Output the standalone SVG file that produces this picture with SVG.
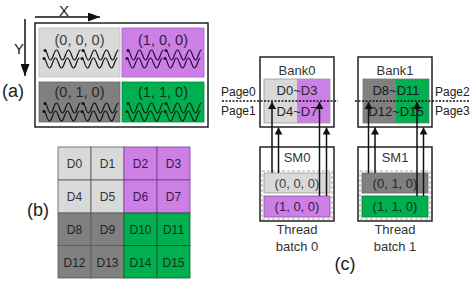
<svg xmlns="http://www.w3.org/2000/svg" xmlns:xlink="http://www.w3.org/1999/xlink" width="473" height="282" viewBox="0 0 473 282">
<style>
text{font-family:"Liberation Sans",Arial,sans-serif;text-anchor:middle}
.lbl{font-size:13px;fill:#333}
.big{font-size:18px;fill:#222}
.d{font-size:12px;fill:#333}
.pg{font-size:12px;fill:#222;text-anchor:start}
.box{fill:#fff;stroke:#222;stroke-width:1.5}
.lg{fill:#d9d9d9}
.pu{fill:#cc80e6}
.dg{fill:#808080}
.gr{fill:#00b050}
.wl{fill:none;stroke:currentColor;stroke-width:1.2}
.wd{fill:currentColor;stroke:none}
.conn{stroke:#111;stroke-width:1.5;fill:none}
.dot{stroke:#111;stroke-width:1.5;stroke-dasharray:2,1.5;fill:none}
</style>
<defs>
<marker id="ah" markerWidth="7" markerHeight="8" refX="7" refY="4" orient="auto" markerUnits="userSpaceOnUse"><path d="M0,0 L7,4 L0,8 z" fill="#111"/></marker>
<marker id="ahb" markerWidth="12" markerHeight="9" refX="12" refY="4.5" orient="auto" markerUnits="userSpaceOnUse"><path d="M0,0 L12,4.5 L0,9 z" fill="#111"/></marker>
<g id="wv">
<path class="wl" d="M0,0 C2,0 3,10 5.5,10 C8,10 9,0 11.5,0 C14,0 15,10 17.5,10 C20,10 21,0 23.5,0 C26,0 27,10 29.5,10 C32,10 33,0 35.5,0"/>
<path class="wl" d="M-1,8 C1,8 2,18 4.5,18 C7,18 8,8 10.5,8 C13,8 14,18 16.5,18 C19,18 20,8 22.5,8 C25,8 26,18 28.5,18 C31,18 32,8 34.5,8"/>
<circle class="wd" cx="0" cy="0.5" r="1.5"/>
<circle class="wd" cx="-1" cy="8.5" r="1.5"/>
</g>
</defs>

<!-- Panel (a) -->
<g id="panel-a">
<text class="big" x="13" y="97">(a)</text>
<text x="64" y="16" style="font-size:15px;fill:#222">X</text>
<text x="19" y="54" style="font-size:15px;fill:#222">Y</text>
<line class="conn" x1="35" y1="17" x2="100" y2="17" marker-end="url(#ahb)"/>
<line class="conn" x1="25" y1="19" x2="25" y2="76" marker-end="url(#ahb)"/>
<rect class="box" x="35" y="23" width="173" height="104"/>
</g>
<g id="block-000">
<rect class="lg" x="39" y="28" width="81" height="49" stroke="#bdbdbd" stroke-width="0.8"/>
<text class="lbl" x="79.5" y="45" style="font-size:14.5px;fill:#404040">(0, 0, 0)</text>
</g>
<g id="block-100">
<rect class="pu" x="122" y="28" width="82" height="49" stroke="#a860c0" stroke-width="0.8"/>
<text class="lbl" x="163" y="45" style="font-size:14.5px;fill:#3a1648">(1, 0, 0)</text>
</g>
<g id="block-010">
<rect class="dg" x="39" y="82" width="81" height="40" stroke="#666" stroke-width="0.8"/>
<text class="lbl" x="79.5" y="97" style="font-size:14.5px;fill:#262626">(0, 1, 0)</text>
</g>
<g id="block-110">
<rect class="gr" x="122" y="82" width="82" height="40" stroke="#008a3e" stroke-width="0.8"/>
<text class="lbl" x="163" y="97" style="font-size:14.5px;fill:#0d3318">(1, 1, 0)</text>
</g>
<g id="warps">
<g style="color:#111">
<use xlink:href="#wv" x="45" y="50"/><use xlink:href="#wv" x="83" y="50"/>
</g>
<g style="color:#2a0a36">
<use xlink:href="#wv" x="128" y="50"/><use xlink:href="#wv" x="166" y="50"/>
</g>
<g style="color:#111">
<use xlink:href="#wv" x="45" y="103"/><use xlink:href="#wv" x="83" y="103"/>
</g>
<g style="color:#0a2410">
<use xlink:href="#wv" x="128" y="103"/><use xlink:href="#wv" x="166" y="103"/>
</g>
</g>

<!-- Panel (b) -->
<g id="panel-b">
<text class="big" x="38" y="216">(b)</text>
<g stroke="#5a5a5a" stroke-width="0.8">
<rect class="lg" x="58" y="147" width="33" height="33"/><rect class="lg" x="91" y="147" width="33" height="33"/>
<rect class="lg" x="58" y="180" width="33" height="33"/><rect class="lg" x="91" y="180" width="33" height="33"/>
<rect class="dg" x="58" y="213" width="33" height="32.5"/><rect class="dg" x="91" y="213" width="33" height="32.5"/>
<rect class="dg" x="58" y="245.5" width="33" height="32.5"/><rect class="dg" x="91" y="245.5" width="33" height="32.5"/>
</g>
<g stroke="#7a3a90" stroke-width="0.8">
<rect class="pu" x="124" y="147" width="33" height="33"/><rect class="pu" x="157" y="147" width="33" height="33"/>
<rect class="pu" x="124" y="180" width="33" height="33"/><rect class="pu" x="157" y="180" width="33" height="33"/>
</g>
<g stroke="#0a5a2a" stroke-width="0.8">
<rect class="gr" x="124" y="213" width="33" height="32.5"/><rect class="gr" x="157" y="213" width="33" height="32.5"/>
<rect class="gr" x="124" y="245.5" width="33" height="32.5"/><rect class="gr" x="157" y="245.5" width="33" height="32.5"/>
</g>
<text class="d" x="74.5" y="168">D0</text><text class="d" x="107.5" y="168">D1</text>
<text class="d" x="140.5" y="168" style="fill:#3a1648">D2</text><text class="d" x="173.5" y="168" style="fill:#3a1648">D3</text>
<text class="d" x="74.5" y="201">D4</text><text class="d" x="107.5" y="201">D5</text>
<text class="d" x="140.5" y="201" style="fill:#3a1648">D6</text><text class="d" x="173.5" y="201" style="fill:#3a1648">D7</text>
<text class="d" x="74.5" y="234" style="fill:#222">D8</text><text class="d" x="107.5" y="234" style="fill:#222">D9</text>
<text class="d" x="140.5" y="234" style="fill:#0d3318">D10</text><text class="d" x="173.5" y="234" style="fill:#0d3318">D11</text>
<text class="d" x="74.5" y="266.5" style="fill:#222">D12</text><text class="d" x="107.5" y="266.5" style="fill:#222">D13</text>
<text class="d" x="140.5" y="266.5" style="fill:#0d3318">D14</text><text class="d" x="173.5" y="266.5" style="fill:#0d3318">D15</text>
</g>

<!-- Panel (c) -->
<g id="bank0">
<rect class="box" x="260" y="57" width="74" height="70"/>
<text class="lbl" x="297" y="75">Bank0</text>
<rect class="lg" x="264" y="79" width="33" height="44"/>
<rect class="pu" x="297" y="79" width="33" height="44"/>
<rect x="264" y="79" width="66" height="44" fill="none" stroke="#9a9a9a" stroke-width="0.8"/>
<text class="lbl" x="297" y="95" style="fill:#262626">D0~D3</text>
<text class="lbl" x="297" y="116" style="fill:#262626">D4~D7</text>
</g>
<g id="bank1">
<rect class="box" x="358" y="57" width="74" height="70"/>
<text class="lbl" x="395" y="75">Bank1</text>
<rect class="dg" x="363" y="79" width="33" height="44"/>
<rect class="gr" x="396" y="79" width="33" height="44"/>
<rect x="363" y="79" width="66" height="44" fill="none" stroke="#777" stroke-width="0.8"/>
<text class="lbl" x="396" y="95" style="fill:#1a1a1a">D8~D11</text>
<text class="lbl" x="396" y="116" style="fill:#1a1a1a">D12~D15</text>
</g>
<g id="pages">
<text class="pg" x="221" y="96">Page0</text>
<text class="pg" x="221" y="115">Page1</text>
<text class="pg" x="435" y="96">Page2</text>
<text class="pg" x="435" y="115">Page3</text>
<line class="dot" x1="222" y1="101" x2="338" y2="101"/>
<line class="dot" x1="355" y1="101" x2="470" y2="101"/>
</g>
<g id="sm0">
<rect class="box" x="260" y="147" width="74" height="74"/>
<text class="lbl" x="297" y="162">SM0</text>
<rect x="262" y="171" width="70" height="48" fill="none" stroke="#aaa" stroke-width="1" stroke-dasharray="3,2"/>
<rect class="lg" x="264" y="173" width="66" height="20" stroke="#999" stroke-width="0.8"/>
<rect class="pu" x="264" y="196" width="66" height="21" stroke="#8a4aa0" stroke-width="0.8"/>
<text class="lbl" x="297" y="188" style="fill:#404040">(0, 0, 0)</text>
<text class="lbl" x="297" y="211" style="fill:#3a1648">(1, 0, 0)</text>
<text class="lbl" x="297" y="234">Thread</text>
<text class="lbl" x="297" y="251">batch 0</text>
</g>
<g id="sm1">
<rect class="box" x="358" y="147" width="74" height="74"/>
<text class="lbl" x="395" y="162">SM1</text>
<rect x="360" y="171" width="70" height="48" fill="none" stroke="#aaa" stroke-width="1" stroke-dasharray="3,2"/>
<rect class="dg" x="362" y="173" width="66" height="20" stroke="#666" stroke-width="0.8"/>
<rect class="gr" x="362" y="196" width="66" height="21" stroke="#0a7a3a" stroke-width="0.8"/>
<text class="lbl" x="395" y="188" style="fill:#262626">(0, 1, 0)</text>
<text class="lbl" x="395" y="211" style="fill:#0d3318">(1, 1, 0)</text>
<text class="lbl" x="395" y="234">Thread</text>
<text class="lbl" x="395" y="251">batch 1</text>
</g>
<text class="big" x="345" y="270">(c)</text>
<g id="connectors">
<line class="conn" x1="272" y1="173" x2="272" y2="102" marker-end="url(#ah)"/>
<line class="conn" x1="278.5" y1="173" x2="278.5" y2="127.5" marker-end="url(#ah)"/>
<line class="conn" x1="319.5" y1="196" x2="319.5" y2="102" marker-end="url(#ah)"/>
<line class="conn" x1="326.5" y1="196" x2="326.5" y2="127.5" marker-end="url(#ah)"/>
<line class="conn" x1="368.5" y1="173" x2="368.5" y2="102" marker-end="url(#ah)"/>
<line class="conn" x1="375" y1="173" x2="375" y2="127.5" marker-end="url(#ah)"/>
<line class="conn" x1="417" y1="196" x2="417" y2="102" marker-end="url(#ah)"/>
<line class="conn" x1="423.5" y1="196" x2="423.5" y2="127.5" marker-end="url(#ah)"/>
</g>
</svg>
